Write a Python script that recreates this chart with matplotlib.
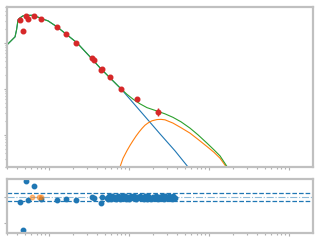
import matplotlib
matplotlib.use("Agg")
import matplotlib.pyplot as plt
import numpy as np

# photometry (wavelength in micron, flux)
phot_wave = [0.434, 0.473, 0.516, 0.546, 0.650, 0.794, 1.259, 1.631, 2.175,
             3.447, 3.652, 4.467, 4.597, 5.79, 7.94, 12.6, 23.0]
phot_flux = [316, 182, 386, 332, 386, 332, 223, 157, 100,
             47.2, 42.7, 25.9, 27.2, 18.2, 10.0, 6.07, 3.16]
phot_err = [20, 10, 25, 20, 40, 20, 12, 8, 5,
            3, 2.5, 1.5, 1.5, 1.0, 0.6, 0.4, 0.6]

# total model
tot_wave = [0.2985, 0.3255, 0.3548, 0.3758, 0.3926, 0.4097, 0.4340, 0.4732,
            0.5464, 0.6310, 0.7079, 0.7720, 0.8913, 0.9716, 1.259, 1.679,
            2.239, 3.254, 4.341, 5.788, 7.943, 9.44, 11.22, 13.73, 16.79,
            23.04, 28.18, 35.48, 44.67, 57.87, 72.9, 94.4, 115.5, 137.3,
            167.9, 244.1]
tot_flux = [90.6, 105.2, 122.2, 134.9, 191.9, 316.2, 349.1, 386.4,
            396.3, 396.3, 367.3, 349.1, 316.2, 300.6, 222.8, 149.3,
            100.0, 49.7, 28.6, 17.3, 10.0, 7.59, 5.97, 4.72, 3.90,
            3.24, 2.86, 2.40, 1.92, 1.40, 1.0, 0.660, 0.472, 0.349,
            0.205, 0.1]

# stellar component
star_wave = tot_wave[:21] + [11.55, 16.79, 24.4, 37.6, 54.6, 77.2]
star_flux = tot_flux[:21] + [4.72, 2.23, 1.05, 0.449, 0.201, 0.1]

# dust component
dust_wave = [7.29, 7.72, 8.41, 9.44, 10.29, 11.22, 12.23, 13.34, 14.54,
             15.85, 17.28, 19.39, 22.39, 25.12, 28.18, 35.48, 44.67, 57.87,
             72.9, 94.4, 115.5, 137.3, 163.1, 230.4]
dust_flux = [0.105, 0.201, 0.308, 0.454, 0.589, 0.748, 0.937, 1.15, 1.38,
             1.62, 1.81, 2.02, 2.15, 2.17, 2.12, 1.80, 1.43, 1.09,
             0.798, 0.557, 0.417, 0.311, 0.205, 0.105]

# residuals
res_phot_wave = [0.434, 0.473, 0.516, 0.546, 0.650, 0.794, 1.259, 1.631,
                 2.175, 3.447, 3.652, 4.467, 4.597]
res_phot = [-0.18, -1.27, 0.615, -0.115, 0.42, -0.09, -0.115, -0.08,
            -0.115, -0.01, -0.05, -0.22, -0.01]
res_lim_wave = [0.618, 0.756, 0.794]
res_lim = [0.0, 0.0, -0.01]
res_spec_wave = [5.3, 5.5, 5.7, 5.9, 6.1, 6.3, 6.6, 6.9, 7.2, 7.5, 7.8, 8.1,
                 8.5, 8.9, 9.3, 9.7, 10.1, 10.6, 11.1, 11.6, 12.1, 12.7, 13.3,
                 13.9, 14.5, 15.2, 15.9, 16.6, 17.4, 18.2, 19.0, 19.9, 20.8,
                 21.8, 22.8, 23.8, 24.9, 26.0, 27.2, 28.5, 29.8, 31.2, 32.6,
                 34.1, 35.7, 37.3]
res_spec = [-0.02, -0.06, 0.02, -0.08, 0.03, -0.04, 0.01, -0.07, 0.04, -0.03,
            -0.08, 0.02, -0.05, 0.03, -0.06, 0.0, -0.08, 0.03, -0.04, 0.02,
            -0.07, 0.01, -0.05, 0.04, -0.03, -0.08, 0.02, -0.06, 0.03, -0.02,
            -0.07, 0.01, -0.05, 0.04, -0.08, 0.0, -0.04, 0.03, -0.07, 0.02,
            -0.05, 0.05, -0.03, -0.08, 0.04, -0.02]

xlim = (10 ** -0.525, 10 ** 3.3)

fig = plt.figure(figsize=(3.2, 2.4), dpi=100)
ax = fig.add_axes([0.022, 0.304, 0.956, 0.667])
axr = fig.add_axes([0.022, 0.029, 0.956, 0.225])

ax.plot(star_wave, star_flux, color="#1f77b4", lw=0.8)
ax.plot(dust_wave, dust_flux, color="#ff7f0e", lw=0.8)
ax.plot(tot_wave, tot_flux, color="#2ca02c", lw=0.8)
ax.errorbar(phot_wave, phot_flux, yerr=phot_err, fmt="o", color="#d62728",
            ms=3.3, elinewidth=1, capsize=0, zorder=5)
ax.set_xscale("log")
ax.set_yscale("log")
ax.set_xlim(*xlim)
ax.set_ylim(10 ** -0.7, 10 ** 2.78)

axr.axhline(0.15, color="#1f77b4", ls="--", lw=0.9)
axr.axhline(-0.15, color="#1f77b4", ls="--", lw=0.9)
axr.axhline(0.0, color="#1f77b4", ls="-.", lw=0.8, alpha=0.5)
axr.plot(res_spec_wave, res_spec, "o", color="#1f77b4", ms=3.2)
axr.plot(res_phot_wave, res_phot, "o", color="#1f77b4", ms=3.2)
axr.plot(res_lim_wave, res_lim, "o", color="#ff7f0e", ms=3.2, alpha=0.5)
axr.set_xscale("log")
axr.set_xlim(*xlim)
axr.set_ylim(-1.385, 0.69)
axr.set_yticks([-1, 0])

for a in (ax, axr):
    for s in a.spines.values():
        s.set_color("#c0c0c0")
        s.set_linewidth(1.6)
    a.tick_params(which="both", colors="#b0b0b0", length=1.5, width=0.8,
                  labelleft=False, labelbottom=False)
    a.tick_params(which="major", length=2.5)

fig.savefig("out.png", dpi=100)
